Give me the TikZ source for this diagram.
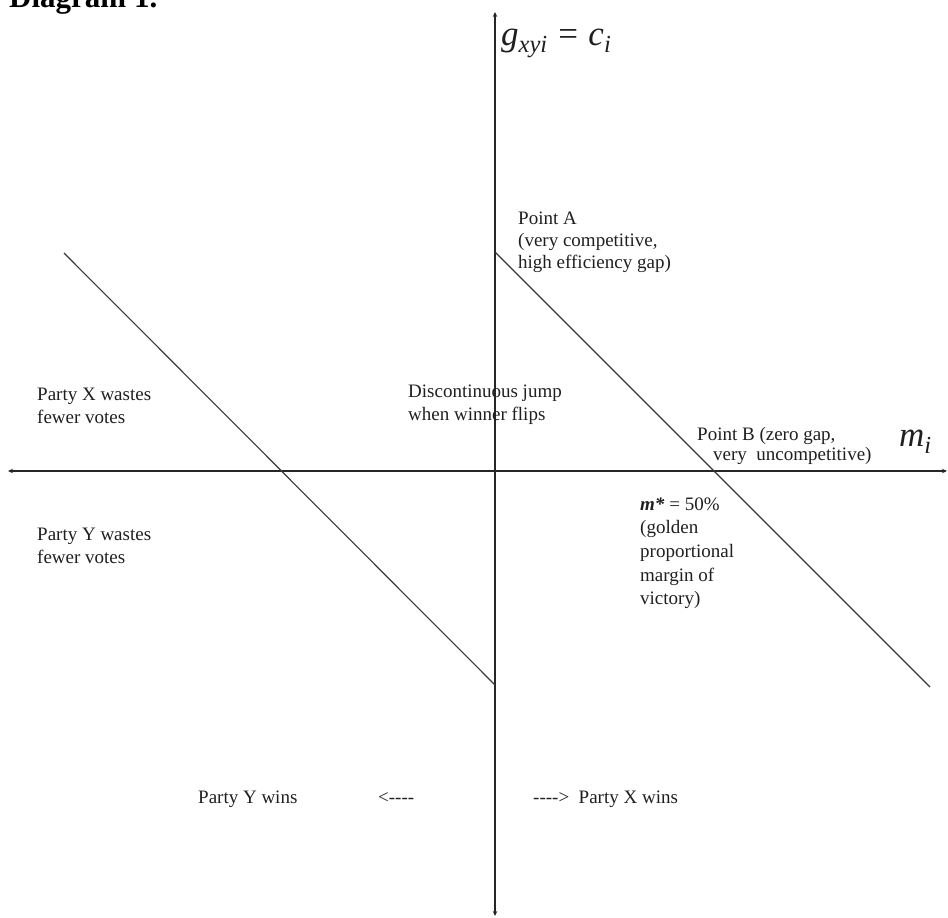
\documentclass[tikz,border=0pt]{standalone}
\usepackage{fontspec}
\setmainfont{Liberation Serif}[Ligatures=TeXOff]
\usetikzlibrary{arrows.meta}
\begin{document}
\begin{tikzpicture}[x=1pt,y=-1pt,
  lbl/.style={anchor=base west, inner sep=0pt, text=black!88, font=\fontsize{19}{23}\selectfont},
  axis/.style={line width=1.3pt, draw=black!85, {Stealth[length=5pt,width=4.5pt]}-{Stealth[length=5pt,width=4.5pt]}},
  diag/.style={line width=1.1pt, draw=black!78},
  mathlbl/.style={anchor=base west, inner sep=0pt, text=black!88, font=\fontsize{35}{35}\selectfont\itshape}]
\useasboundingbox (0,0) rectangle (948,918);
% axes
\coordinate (ytop) at (495,12);
\coordinate (ybot) at (495,916);
\coordinate (xl) at (8,471);
\coordinate (xr) at (947,471);
\draw[axis] (ybot) -- (ytop);
\draw[axis] (xl) -- (xr);
% lines
\coordinate (L1) at (64,253);
\coordinate (L2) at (495,685);
\coordinate (R1) at (495,252);
\coordinate (R2) at (930,687);
\draw[diag] (L1) -- (L2);
\draw[diag] (R1) -- (R2);
% title
\node[anchor=base west, inner sep=0pt, font=\bfseries\fontsize{31}{31}\selectfont] (title) at (9,7) {Diagram 1.};
% axis labels
\node[mathlbl] (ylab) at (501,45) {g\textsubscript{xyi}\hspace{0.3em}\upshape=\hspace{0.3em}\itshape c\textsubscript{i}};
\node[mathlbl] (xlab) at (899,446) {m\textsubscript{i}};
% Point A
\node[lbl] (pa1) at (518,224) {Point A};
\node[lbl] (pa2) at (518,246) {(very competitive,};
\node[lbl] (pa3) at (518,268) {high efficiency gap)};
% jump
\node[lbl] (dj1) at (408,397) {Discontinuous jump};
\node[lbl] (dj2) at (408,420) {when winner flips};
% Party X / Y wastes
\node[lbl] (px1) at (37,400) {Party X wastes};
\node[lbl] (px2) at (37,423) {fewer votes};
\node[lbl] (py1) at (37,540) {Party Y wastes};
\node[lbl] (py2) at (37,563) {fewer votes};
% Point B
\node[lbl] (pb1) at (697,440) {Point B (zero gap,};
\node[lbl] (pb2) at (713,460) {very\enspace uncompetitive)};
% m*
\node[lbl] (ms1) at (640,510) {\textbf{\textit{m*}} = 50\%};
\node[lbl] (ms2) at (640,533) {(golden};
\node[lbl] (ms3) at (640,557) {proportional};
\node[lbl] (ms4) at (640,581) {margin of};
\node[lbl] (ms5) at (640,604) {victory)};
% bottom
\node[lbl] (yw) at (198,803) {Party Y wins};
\node[lbl] (la) at (378,803) {<----};
\node[lbl] (xw) at (533,803) {---->\enspace Party X wins};
\end{tikzpicture}
\end{document}
